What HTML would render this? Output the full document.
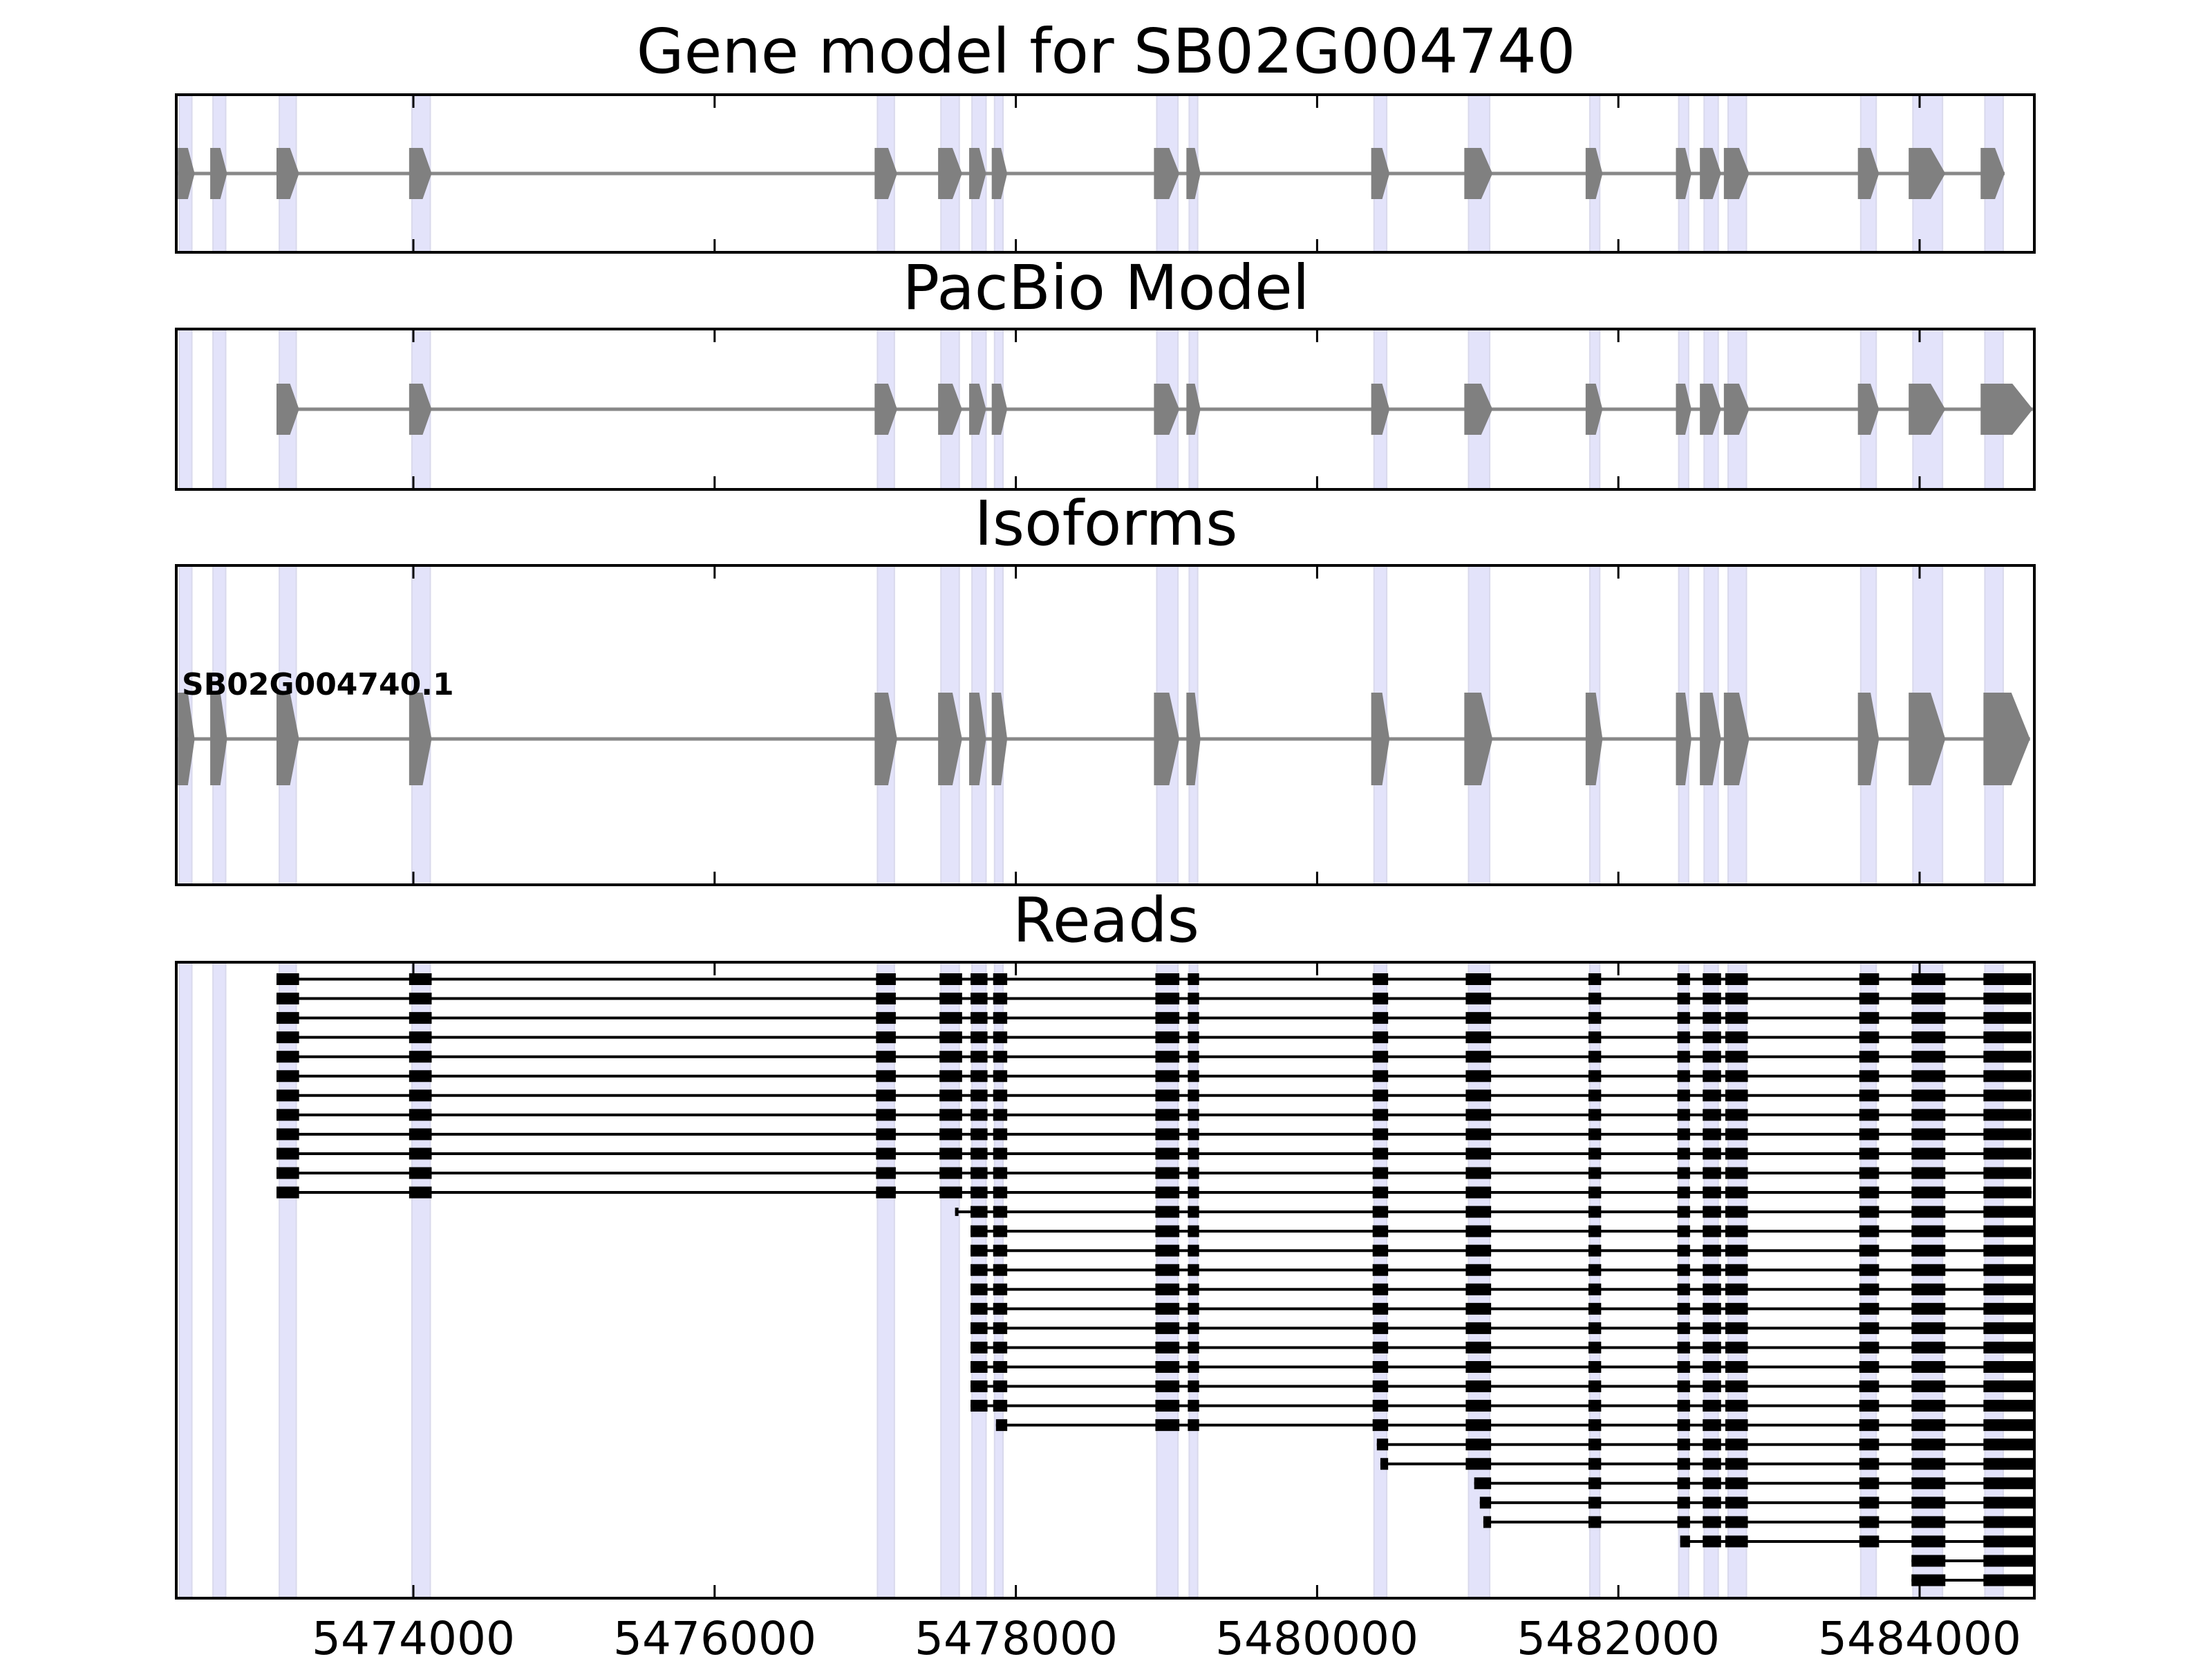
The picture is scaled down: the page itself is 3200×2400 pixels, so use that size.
<!DOCTYPE html>
<html><head><meta charset="utf-8"><style>
html,body{margin:0;padding:0;background:#fff;}
svg{display:block;}
text{font-family:"DejaVu Sans","Liberation Sans",sans-serif;}
</style></head><body>
<svg id="s" width="3200" height="2400" xmlns="http://www.w3.org/2000/svg">
<g id="txt">
<text x="1600" y="105" font-size="89" text-anchor="middle">Gene model for SB02G004740</text>
<text x="1600" y="447" font-size="89" text-anchor="middle">PacBio Model</text>
<text x="1600" y="788" font-size="89" text-anchor="middle">Isoforms</text>
<text x="1600" y="1362" font-size="89" text-anchor="middle">Reads</text>
<text x="263" y="1005" font-size="44" font-weight="bold">SB02G004740.1</text>
<g font-size="66" text-anchor="middle">
<text x="598" y="2393">5474000</text>
<text x="1034" y="2393">5476000</text>
<text x="1470" y="2393">5478000</text>
<text x="1905" y="2393">5480000</text>
<text x="2341" y="2393">5482000</text>
<text x="2777" y="2393">5484000</text>
</g>
</g>
</svg>
<script>
(function(){
var s=document.getElementById('s');var NS='http://www.w3.org/2000/svg';
var F=2.0408;
function el(t,a){var e=document.createElementNS(NS,t);for(var k in a)e.setAttribute(k,a[k]);s.appendChild(e);return e;}
var panels=[[255,137,2943,365],[255,476,2943,708],[255,818,2943,1280],[255,1392,2943,2312]];
var bands=[[127,136],[151,160],[198,210],[292,305],[622,634],[667,680],[689,699],[705,711],[820,835],[843,849],[974,983],[1041,1056],[1127,1134],[1190,1197],[1208,1218],[1225,1238],[1319,1330],[1356,1377],[1407,1420]];
var gene=[[126,138],[149,161],[196,212],[290,306],[620,636],[665,682],[687,699],[703,714],[818,836],[841,851],[972,985],[1038,1058],[1124,1136],[1188,1199],[1205,1220],[1222,1240],[1317,1332],[1353,1379],[1404,1421]];
panels.forEach(function(p){
 bands.forEach(function(b){
  var x0=b[0]*F,x1=b[1]*F;
  el('rect',{x:x0,y:p[1],width:x1-x0,height:p[3]-p[1],fill:'#e3e3fa',stroke:'#d9d9ec','stroke-width':2});
 });
});
function exon(x0,x1,cy,h,col){
 var t=Math.min((x1-x0)*0.4,h*0.4);
 var pts=[[x0,cy-h/2],[x1-t,cy-h/2],[x1,cy],[x1-t,cy+h/2],[x0,cy+h/2]].map(function(q){return q.join(',')}).join(' ');
 el('polygon',{points:pts,fill:col});
}
function model(list,cy,h,lw){
 var a=list[0][0]*F,b=list[list.length-1][1]*F;
 el('line',{x1:a,y1:cy,x2:b,y2:cy,stroke:'#888','stroke-width':lw});
 list.forEach(function(e){exon(Math.max(e[0]*F,257),e[1]*F,cy,h,'#808080');});
}
model(gene,251,74,5);
var pac=gene.slice(2,18).concat([[1404,1441]]);
model(pac,592,74,5);
var iso=gene.slice(0,18).concat([[1406,1439]]);
model(iso,1069,134,5);
var rex=[[196,212],[290,306],[621,635],[666,682],[688,700],[704,714],[819,836],[842,850],[973,984],[1039,1057],[1126,1135],[1189,1198],[1207,1220],[1223,1239],[1318,1332],[1355,1379],[1406,1441]];
function read(i,start,firstIdx,endX){
 var cy=1416.5+i*28.05;
 var ex=rex.slice(firstIdx).map(function(e){return e.slice();});
 if(start!==null) ex[0][0]=start;
 ex[ex.length-1][1]=endX;
 var a=ex[0][0]*F,b=ex[ex.length-1][1]*F;
 el('line',{x1:a,y1:cy,x2:b,y2:cy,stroke:'#000','stroke-width':4});
 ex.forEach(function(e){el('rect',{x:e[0]*F,y:cy-8.5,width:(e[1]-e[0])*F,height:17,fill:'#000'});});
}
var i;
for(i=0;i<12;i++) read(i,null,0,1440);
(function(){var cy=1416.5+12*28.05;el('rect',{x:677*F,y:cy-6,width:5,height:12,fill:'#000'});
 el('line',{x1:677*F,y1:cy,x2:688*F,y2:cy,stroke:'#000','stroke-width':4});})();
read(12,null,4,1442);
for(i=13;i<23;i++) read(i,null,4,1442);
read(23,706,5,1442);
read(24,976,8,1442);
read(25,978.5,8,1442);
read(26,1045,9,1442);
read(27,1049,9,1442);
read(28,1051.5,9,1442);
read(29,1191,11,1442);
read(30,1355,15,1442);
read(31,1355,15,1442);
var ticks=[5474000,5476000,5478000,5480000,5482000,5484000];
panels.forEach(function(p){
 ticks.forEach(function(v){var x=598+(v-5474000)*0.2179;
  el('line',{x1:x,y1:p[1],x2:x,y2:p[1]+19,stroke:'#000','stroke-width':3});
  el('line',{x1:x,y1:p[3],x2:x,y2:p[3]-19,stroke:'#000','stroke-width':3});
 });
 el('rect',{x:p[0],y:p[1],width:p[2]-p[0],height:p[3]-p[1],fill:'none',stroke:'#000','stroke-width':4});
});
s.appendChild(document.getElementById('txt'));
})();
</script>
</body></html>
